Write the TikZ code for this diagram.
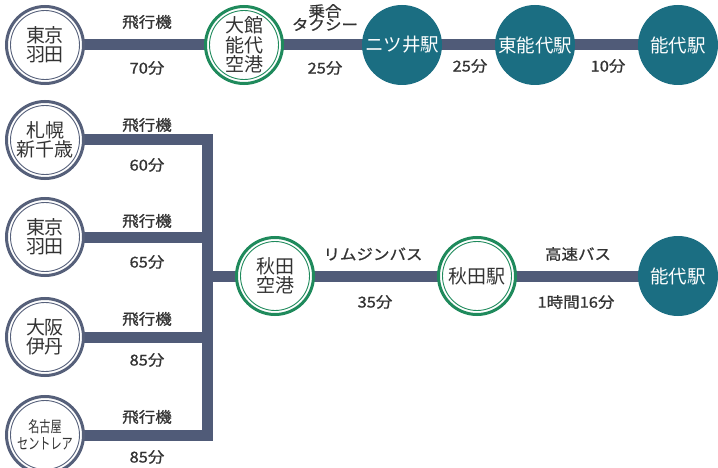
\documentclass[tikz,border=0pt]{standalone}
\usepackage{fontspec}
\setmainfont{Noto Sans CJK JP}
\newfontfamily\jp{Noto Sans CJK JP}
\newfontfamily\jplabel[FakeStretch=1.1,FakeBold=0.8]{Noto Sans CJK JP}
\newfontfamily\jpnarrow[FakeStretch=0.72]{Noto Sans CJK JP}
\usetikzlibrary{backgrounds}
\definecolor{routecol}{HTML}{505B78}
\definecolor{ringgray}{HTML}{56607A}
\definecolor{ringgreen}{HTML}{1F8A5C}
\definecolor{stationteal}{HTML}{1B6E82}
\definecolor{textgray}{HTML}{333333}
\tikzset{
  origin/.style={circle, draw=ringgray, line width=3pt, fill=white,
    minimum size=77pt, inner sep=0pt, align=center, text=textgray,
    font=\jp\fontsize{19}{19}\selectfont,
    path picture={\draw[ringgray, line width=0.9pt] (path picture bounding box.center) circle[radius=34.5pt];}},
  airport/.style={origin, draw=ringgreen,
    path picture={\draw[ringgreen, line width=0.9pt] (path picture bounding box.center) circle[radius=34.5pt];}},
  station/.style={circle, fill=stationteal, minimum size=80pt, inner sep=0pt,
    text=white, font=\jp\fontsize{18.5}{19}\selectfont},
  route/.style={draw=routecol, line width=11pt, line join=miter},
  lbl/.style={text=textgray, inner sep=0pt, align=center,
    font=\jplabel\fontsize{15}{13.5}\selectfont},
}
\begin{document}
\begin{tikzpicture}[x=1pt,y=-1pt]
\useasboundingbox (0,0) rectangle (718,468);
% top row
\node[origin] (tokyoA) at (45,45) {東京\\羽田};
\node[airport, font=\jp\fontsize{19}{19.5}\selectfont] (odate) at (244,45) {大館\\能代\\空港};
\node[station] (futatsui) at (402,45) {ニツ井駅};
\node[station] (higashi) at (535,45) {東能代駅};
\node[station] (noshiroA) at (678,45) {能代駅};
% left column
\node[origin] (sapporo) at (45,140) {札幌\\新千歳};
\node[origin] (tokyoB) at (45,237) {東京\\羽田};
\node[origin] (osaka) at (45,337) {大阪\\伊丹};
\node[origin, font=\jpnarrow\fontsize{15.5}{17}\selectfont] (nagoya) at (45,435) {名古屋\\セントレア};
\coordinate (j) at (207,276);
\node[airport] (akitaap) at (275,276) {秋田\\空港};
\node[airport] (akitast) at (477,276) {秋田駅};
\node[station] (noshiroB) at (678,276) {能代駅};
\begin{scope}[on background layer]
\fill[white] (0,0) rectangle (718,468);
\draw[route] (tokyoA.center) -- (odate.center) -- (futatsui.center) -- (higashi.center) -- (noshiroA.center);
\draw[route] (sapporo.center) -| (j) -- (akitaap.center) -- (akitast.center) -- (noshiroB.center);
\draw[route] (tokyoB.center) -| (j);
\draw[route] (osaka.center) -| (j);
\draw[route] (nagoya.center) -| (j);
\end{scope}
% labels top
\node[lbl] (l1) at (147,22) {飛行機};
\node[lbl] (l2) at (147,68) {70分};
\node[lbl] (l3) at (325,17.5) {乗合\\タクシー};
\node[lbl] (l4) at (325,68) {25分};
\node[lbl] (l5) at (470,66) {25分};
\node[lbl] (l6) at (608,66) {10分};
% labels left
\node[lbl] (l7) at (147,125) {飛行機};
\node[lbl] (l8) at (147,165) {60分};
\node[lbl] (l9) at (147,221) {飛行機};
\node[lbl] (l10) at (147,262) {65分};
\node[lbl] (l11) at (147,319) {飛行機};
\node[lbl] (l12) at (147,360) {85分};
\node[lbl] (l13) at (147,417) {飛行機};
\node[lbl] (l14) at (147,457) {85分};
% labels right
\node[lbl] (l15) at (373,254) {リムジンバス};
\node[lbl] (l16) at (375,302) {35分};
\node[lbl] (l17) at (578,254) {高速バス};
\node[lbl] (l18) at (576,302) {1時間16分};
\end{tikzpicture}
\end{document}
